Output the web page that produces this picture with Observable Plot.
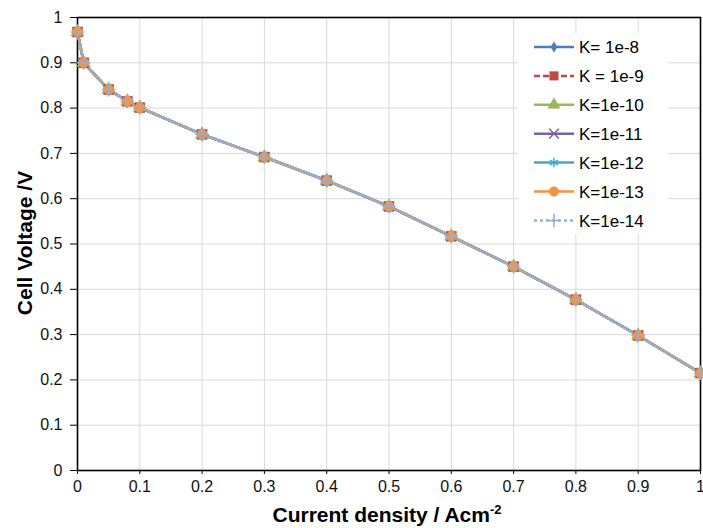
<!DOCTYPE html>
<html><head><meta charset="utf-8">
<script src="https://cdn.jsdelivr.net/npm/d3@7"></script>
<script src="https://cdn.jsdelivr.net/npm/@observablehq/plot@0.6"></script>
<style>
body{margin:0;background:#fff}
svg{font-family:"Liberation Sans",Arial,sans-serif}
</style>
</head><body><div id="chart"></div>
<script>
// Current density (A cm^-2)
const currentDensity = [0, 0.01, 0.05, 0.08, 0.1, 0.2, 0.3, 0.4, 0.5, 0.6, 0.7, 0.8, 0.9, 1.0];
// Cell voltage (V) per permeability K — curves overlap in the reference
const vK1e8  = [0.968, 0.900, 0.841, 0.815, 0.801, 0.742, 0.692, 0.640, 0.583, 0.517, 0.450, 0.377, 0.298, 0.215];
const vK1e9  = [0.968, 0.900, 0.841, 0.815, 0.801, 0.742, 0.692, 0.640, 0.583, 0.517, 0.450, 0.377, 0.298, 0.215];
const vK1e10 = [0.968, 0.900, 0.841, 0.815, 0.801, 0.742, 0.692, 0.640, 0.583, 0.517, 0.450, 0.377, 0.298, 0.215];
const vK1e11 = [0.968, 0.900, 0.841, 0.815, 0.801, 0.742, 0.692, 0.640, 0.583, 0.517, 0.450, 0.377, 0.298, 0.215];
const vK1e12 = [0.968, 0.900, 0.841, 0.815, 0.801, 0.742, 0.692, 0.640, 0.583, 0.517, 0.450, 0.377, 0.298, 0.215];
const vK1e13 = [0.968, 0.900, 0.841, 0.815, 0.801, 0.742, 0.692, 0.640, 0.583, 0.517, 0.450, 0.377, 0.298, 0.215];
const vK1e14 = [0.968, 0.900, 0.841, 0.815, 0.801, 0.742, 0.692, 0.640, 0.583, 0.517, 0.450, 0.377, 0.298, 0.215];
const seriesNames = ["K= 1e-8", "K = 1e-9", "K=1e-10", "K=1e-11", "K=1e-12", "K=1e-13", "K=1e-14"];
const seriesValues = [vK1e8, vK1e9, vK1e10, vK1e11, vK1e12, vK1e13, vK1e14];
const xTicks = [0, 0.1, 0.2, 0.3, 0.4, 0.5, 0.6, 0.7, 0.8, 0.9, 1];
const yTicks = [0, 0.1, 0.2, 0.3, 0.4, 0.5, 0.6, 0.7, 0.8, 0.9, 1];
const xTitle = "Current density / Acm";
const xTitleSup = "-2";
const yTitle = "Cell Voltage /V";

// styles per series
const styles = [
  {color: "#4A7EBB", symbol: "diamond", filled: true, dash: null, r: 4, lr: 3.2},
  {color: "#BE4B48", symbol: "square", filled: true, dash: "6,3", r: 5.6, lr: 4.8},
  {color: "#98B954", symbol: "triangle", filled: true, dash: null, r: 5, lr: 4.5},
  {color: "#7D60A0", symbol: "times", filled: false, dash: null, r: 4.5, lr: 4.5},
  {color: "#46AAC5", symbol: "asterisk", filled: false, dash: null, r: 4.5, lr: 4.5},
  {color: "#F69240", symbol: "circle", filled: true, dash: null, r: 5, lr: 4.8},
  {color: "#8DB0DC", symbol: "plus", filled: false, dash: "3,3", r: 4.5, lr: 4.5}
];

const fmt = d => String(+d.toFixed(1));

const marks = [
  Plot.gridX(xTicks, {stroke: "#d9d9d9", strokeOpacity: 1, strokeWidth: 1}),
  Plot.gridY(yTicks, {stroke: "#d9d9d9", strokeOpacity: 1, strokeWidth: 1}),
  Plot.axisX(xTicks, {tickSize: 4, tickPadding: 6, fontSize: 16, tickFormat: fmt, label: null, fill: "#111"}),
  Plot.axisY(yTicks, {tickSize: 7, tickPadding: 8, fontSize: 16, tickFormat: fmt, label: null, fill: "#111"}),
  Plot.frame({stroke: "#000", strokeWidth: 1.6})
];

const seriesData = seriesValues.map((vals, i) =>
  currentDensity.map((c, j) => ({x: c, y: vals[j], k: seriesNames[i]})));

// all lines first, then all markers (as in the spreadsheet chart)
seriesData.forEach((data, i) => {
  const s = styles[i];
  marks.push(Plot.line(data, {x: "x", y: "y", stroke: s.color, strokeWidth: 2.5, strokeDasharray: s.dash, curve: "linear"}));
});
seriesData.forEach((data, i) => {
  const s = styles[i];
  marks.push(Plot.dot(data, {
    x: "x", y: "y", symbol: s.symbol, r: s.r,
    fill: s.filled ? s.color : "none",
    stroke: s.color, strokeWidth: s.filled ? 0.5 : 1.4
  }));
});

const plot = Plot.plot({
  width: 703, height: 528,
  marginLeft: 77, marginRight: 3, marginTop: 17, marginBottom: 58,
  style: {fontFamily: '"Liberation Sans", Arial, sans-serif', fontSize: "16px", background: "#fff", overflow: "visible"},
  x: {domain: [0, 1], label: null},
  y: {domain: [0, 1], label: null},
  marks
});
document.getElementById("chart").appendChild(plot);

// Titles and legend
const svg = d3.select(plot);
const xt = svg.append("text")
  .attr("x", 387).attr("y", 522).attr("text-anchor", "middle")
  .attr("font-weight", "bold").attr("font-size", 21).attr("fill", "#000");
xt.append("tspan").text(xTitle);
xt.append("tspan").attr("font-size", 13).attr("dy", -8).text(xTitleSup);

svg.append("text")
  .attr("transform", "translate(32,243) rotate(-90)")
  .attr("text-anchor", "middle").attr("font-weight", "bold").attr("font-size", 21).attr("fill", "#000")
  .text(yTitle);

const lg = svg.append("g");
lg.append("rect").attr("x", 518).attr("y", 33).attr("width", 150).attr("height", 201).attr("fill", "#fff");
const symMap = {diamond: d3.symbolDiamond, square: d3.symbolSquare, triangle: d3.symbolTriangle,
  times: d3.symbolTimes, asterisk: d3.symbolAsterisk, circle: d3.symbolCircle, plus: d3.symbolPlus};
seriesNames.forEach((name, i) => {
  const s = styles[i];
  const y = 47 + i * 28.9;
  lg.append("line").attr("x1", 534).attr("x2", 574).attr("y1", y).attr("y2", y)
    .attr("stroke", s.color).attr("stroke-width", 2.5).attr("stroke-dasharray", s.dash);
  lg.append("path").attr("transform", `translate(554,${y})`)
    .attr("d", d3.symbol(symMap[s.symbol], Math.PI * s.lr * s.lr)())
    .attr("fill", s.filled ? s.color : "none").attr("stroke", s.color).attr("stroke-width", s.filled ? 0.5 : 1.5);
  lg.append("text").attr("x", 579).attr("y", y).attr("dy", "0.36em").attr("text-anchor", "start")
    .attr("font-size", 17).attr("fill", "#000").text(name);
});
</script>
</body></html>
